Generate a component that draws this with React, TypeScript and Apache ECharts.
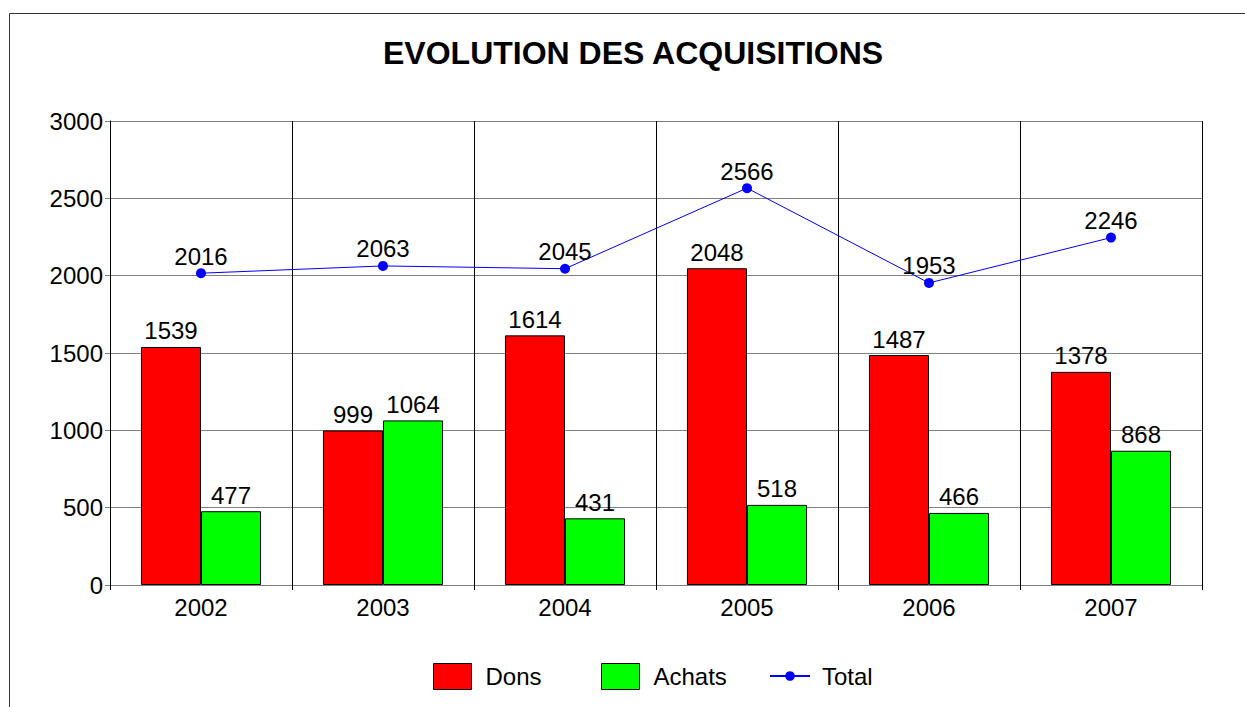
import React, { useEffect, useRef } from "react";
import * as echarts from "echarts";

const years = ["2002", "2003", "2004", "2005", "2006", "2007"];
const dons = [1539, 999, 1614, 2048, 1487, 1378];
const achats = [477, 1064, 431, 518, 466, 868];
const total = [2016, 2063, 2045, 2566, 1953, 2246];

const FONT = "'Liberation Sans', Arial, sans-serif";

export default function App() {
  const ref = useRef<HTMLDivElement>(null);
  useEffect(() => {
    if (!ref.current) return;
    const chart = echarts.init(ref.current, null, { renderer: "svg" });
    const labelStyle = { show: true, position: "top", color: "#000", fontSize: 24, fontFamily: FONT, distance: 4 };
    const legendText = { color: "#000", fontSize: 24, fontFamily: FONT, padding: [0, 0, 0, 9] };
    chart.setOption({
      animation: false,
      backgroundColor: "#fff",
      textStyle: { fontFamily: FONT },
      title: {
        text: "EVOLUTION DES ACQUISITIONS",
        left: 383,
        top: 37,
        padding: 0,
        textStyle: { fontSize: 32, fontWeight: "bold", color: "#000", fontFamily: FONT },
      },
      graphic: [
        {
          type: "rect",
          shape: { x: 9.5, y: 13.5, width: 1400, height: 900 },
          style: { fill: "none", stroke: "#333", lineWidth: 1 },
          silent: true,
        },
      ],
      grid: { left: 110, top: 121, right: 43, bottom: 122, containLabel: false },
      xAxis: {
        type: "category",
        data: years,
        boundaryGap: true,
        axisLine: { show: true, lineStyle: { color: "#808080", width: 1 } },
        axisTick: { show: true, length: 5, lineStyle: { color: "#000" } },
        splitLine: { show: true, lineStyle: { color: "#000", width: 1 } },
        axisLabel: { color: "#000", fontSize: 24, fontFamily: FONT, margin: 10 },
      },
      yAxis: {
        type: "value",
        min: 0,
        max: 3000,
        interval: 500,
        axisLine: { show: true, lineStyle: { color: "#000", width: 1 } },
        axisTick: { show: true, length: 5, lineStyle: { color: "#808080" } },
        splitLine: { show: true, lineStyle: { color: "#808080", width: 1 } },
        axisLabel: {
          color: "#000",
          fontSize: 24,
          fontFamily: FONT,
          margin: 7,
          formatter: (v: number) => String(v),
        },
      },
      legend: [
        {
          data: [{ name: "Dons", icon: "rect" }],
          left: 433,
          top: 663,
          padding: 0,
          itemWidth: 38,
          itemHeight: 26,
          itemStyle: { borderColor: "#000", borderWidth: 1 },
          textStyle: legendText,
        },
        {
          data: [{ name: "Achats", icon: "rect" }],
          left: 601,
          top: 663,
          padding: 0,
          itemWidth: 38,
          itemHeight: 26,
          itemStyle: { borderColor: "#000", borderWidth: 1 },
          textStyle: legendText,
        },
        {
          data: ["Total"],
          left: 769,
          top: 664,
          padding: 0,
          itemWidth: 40,
          itemHeight: 12,
          textStyle: { ...legendText, padding: [0, 0, 0, 7] },
        },
      ],
      series: [
        {
          name: "Dons",
          type: "bar",
          data: dons,
          barGap: "0%",
          barCategoryGap: "34%",
          itemStyle: { color: "#ff0000", borderColor: "#000", borderWidth: 1 },
          label: labelStyle,
        },
        {
          name: "Achats",
          type: "bar",
          data: achats,
          itemStyle: { color: "#00ff00", borderColor: "#000", borderWidth: 1 },
          label: labelStyle,
        },
        {
          name: "Total",
          type: "line",
          data: total,
          symbol: "circle",
          symbolSize: 10,
          lineStyle: { color: "#0000ff", width: 1 },
          itemStyle: { color: "#0000ff" },
          label: { ...labelStyle, distance: 0 },
          z: 5,
        },
      ],
    });
    return () => chart.dispose();
  }, []);
  return (
    <div
      ref={ref}
      style={{ position: "fixed", left: 0, top: 0, width: 1245, height: 707 }}
    />
  );
}
